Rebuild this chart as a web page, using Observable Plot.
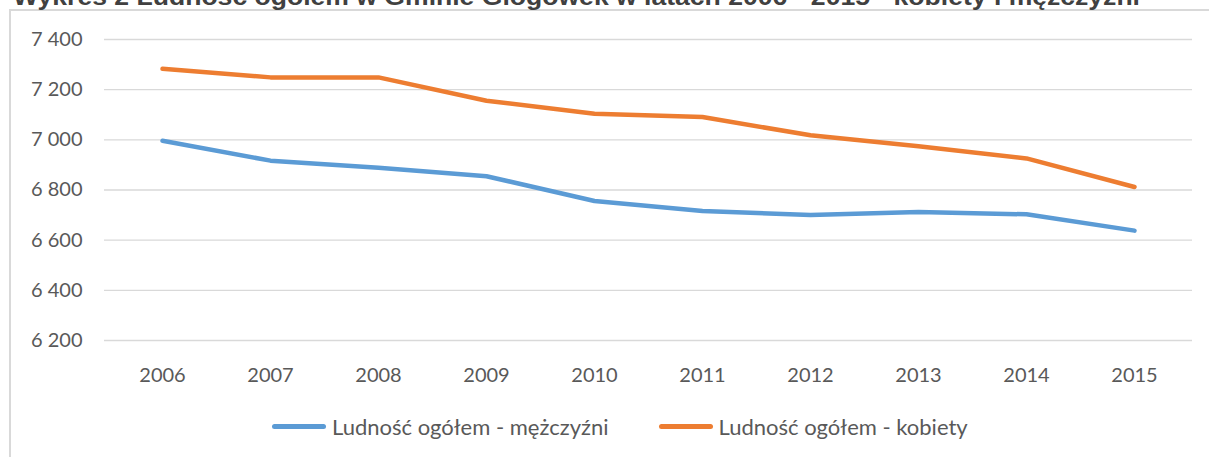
<!DOCTYPE html>
<html>
<head>
<meta charset="utf-8">
<script src="https://cdn.jsdelivr.net/npm/d3@7"></script>
<script src="https://cdn.jsdelivr.net/npm/@observablehq/plot@0.6"></script>
<style>
  html, body { margin: 0; padding: 0; background: #fff; }
  #root { position: relative; width: 1209px; height: 457px; overflow: hidden; background: #fff; }
  #frame { position: absolute; left: 9px; top: 9px; right: -10px; bottom: -10px;
           border-left: 2px solid #d9d9d9; border-top: 2px solid #d9d9d9; }
  #title { position: absolute; left: 0; top: 0; }
  #chart { position: absolute; left: 0; top: 0; }
  #legend { position: absolute; left: 272px; top: 410px; display: flex; align-items: center;
            font-family: Lato, sans-serif; font-size: 22px; color: #595959; height: 32px; }
  .item { display: flex; align-items: center; margin-right: 50px; }
  .swatch { width: 54px; height: 5px; border-radius: 3px; margin-right: 6px; }
</style>
</head>
<body>
<div id="root">
  <div id="frame"></div>
  <svg id="title" width="1209" height="20"></svg>
  <div id="chart"></div>
  <div id="legend"></div>
</div>
<script>
const titleText = "Wykres 2 Ludność ogółem w Gminie Głogówek w latach 2006 - 2015 - kobiety i mężczyźni";
const years = ["2006","2007","2008","2009","2010","2011","2012","2013","2014","2015"];
const men = [6996, 6917, 6889, 6855, 6756, 6716, 6700, 6712, 6703, 6638];
const women = [7283, 7249, 7249, 7156, 7104, 7091, 7018, 6974, 6926, 6812];
const seriesNames = ["Ludność ogółem - mężczyźni", "Ludność ogółem - kobiety"];
const seriesColors = ["#5b9bd5", "#ed7d31"];
const yTicks = [6200, 6400, 6600, 6800, 7000, 7200, 7400];

const data = [];
years.forEach((yr, i) => {
  data.push({year: yr, value: men[i], series: seriesNames[0]});
});
years.forEach((yr, i) => {
  data.push({year: yr, value: women[i], series: seriesNames[1]});
});

const fmt = d => d3.format(",")(d).replace(/,/g, " ");

// Title (top part cut off as in the reference)
const t = d3.select("#title").append("text")
  .attr("x", 13).attr("y", 5)
  .attr("textLength", 1127).attr("lengthAdjust", "spacingAndGlyphs")
  .attr("font-family", "Liberation Sans, Arial, sans-serif")
  .attr("font-weight", "bold").attr("font-size", 23).attr("fill", "#404040")
  .text(titleText);

const chart = Plot.plot({
  width: 1209,
  height: 400,
  marginTop: 39,
  marginBottom: 60,
  marginLeft: 104,
  marginRight: 17,
  style: {fontFamily: "Lato, sans-serif", fontSize: "20px", color: "#595959", background: "transparent", overflow: "visible"},
  x: {type: "point", domain: years, padding: 0.5, label: null},
  y: {domain: [6200, 7400], label: null},
  color: {domain: seriesNames, range: seriesColors},
  marks: [
    Plot.gridY(yTicks, {stroke: "#d9d9d9", strokeOpacity: 1, strokeWidth: 1.4}),
    Plot.axisY(yTicks, {tickSize: 0, tickPadding: 22, tickFormat: fmt, label: null}),
    Plot.axisX({tickSize: 0, tickPadding: 27, tickFormat: d => d, label: null}),
    Plot.lineY(data, {x: "year", y: "value", z: "series", stroke: "series",
      strokeWidth: 4.5, strokeLinecap: "round", strokeLinejoin: "round"})
  ]
});
document.getElementById("chart").appendChild(chart);

const legend = d3.select("#legend");
seriesNames.forEach((name, i) => {
  const it = legend.append("div").attr("class", "item");
  it.append("div").attr("class", "swatch").style("background", seriesColors[i]);
  it.append("span").text(name);
});
</script>
</body>
</html>
